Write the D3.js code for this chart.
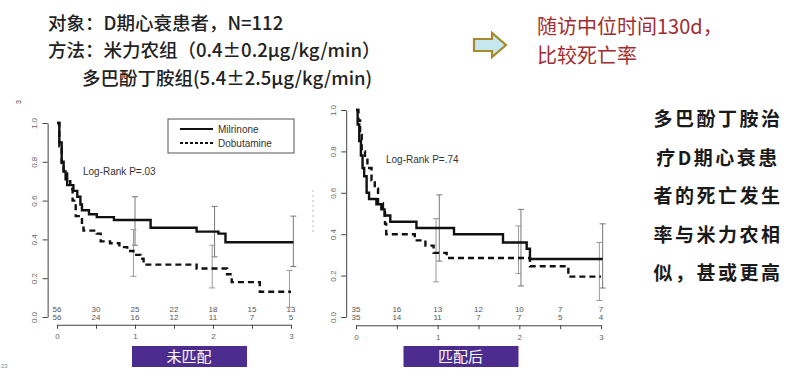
<html>
<head>
<meta charset="utf-8">
<script src="https://d3js.org/d3.v7.min.js"></script>
<style>
  body { margin: 0; background: #fff; }
  svg text { font-family: "Liberation Sans", "Noto Sans CJK SC", sans-serif; }
  svg text.cjk { font-family: "Noto Sans CJK SC", sans-serif; }
  .tick text { fill: #666; font-size: 8px; }
  .axis path, .axis line { stroke: #444; }
</style>
</head>
<body>
<svg id="chart" width="796" height="383"></svg>
<script>
// header text
const headLines = ['对象：D期心衰患者，N=112', '方法：米力农组（0.4±0.2μg/kg/min）', '多巴酚丁胺组(5.4±2.5μg/kg/min)'];
const noteLines = ['随访中位时间130d，', '比较死亡率'];
const sideLines = ['多巴酚丁胺治', '疗D期心衰患', '者的死亡发生', '率与米力农相', '似，甚或更高'];

// shared axis values
const xTicks = [0, 1, 2, 3];
const yTicks = [0, 0.2, 0.4, 0.6, 0.8, 1.0];
const riskTimes = [0, 0.5, 1, 1.5, 2, 2.5, 3];
const seriesNames = ['Milrinone', 'Dobutamine'];

// 未匹配 (unmatched)
const leftMil = [[0,1],[0.03,0.9],[0.06,0.8],[0.085,0.75],[0.11,0.71],[0.13,0.68],[0.21,0.65],[0.26,0.62],[0.3,0.58],[0.32,0.55],[0.41,0.53],[0.51,0.515],[0.73,0.5],[1.2,0.46],[1.79,0.44],[2.07,0.43],[2.16,0.385],[3.03,0.385]];
const leftDob = [[0,1],[0.03,0.88],[0.06,0.78],[0.085,0.74],[0.13,0.7],[0.17,0.66],[0.2,0.6],[0.24,0.52],[0.32,0.46],[0.34,0.445],[0.51,0.43],[0.56,0.39],[0.68,0.38],[0.8,0.36],[0.9,0.34],[0.98,0.32],[1.07,0.3],[1.11,0.27],[1.79,0.25],[2.18,0.22],[2.24,0.18],[2.6,0.13],[3.0,0.13]];
const leftMilErr = [[1.0,0.37,0.62],[2.02,0.31,0.57],[3.03,0.26,0.52]];
const leftDobErr = [[0.98,0.21,0.45],[1.99,0.15,0.37],[2.98,0.05,0.24]];
const leftRiskMil = [56, 30, 25, 22, 18, 15, 13];
const leftRiskDob = [56, 24, 16, 12, 11, 7, 5];

// 匹配后 (matched)
const rightMil = [[0,1],[0.02,0.93],[0.04,0.85],[0.06,0.78],[0.08,0.72],[0.1,0.68],[0.13,0.6],[0.16,0.57],[0.25,0.545],[0.31,0.52],[0.35,0.49],[0.42,0.46],[0.74,0.43],[1.2,0.4],[1.8,0.36],[2.09,0.33],[2.13,0.28],[3.02,0.28]];
const rightDob = [[0,1],[0.03,0.95],[0.05,0.88],[0.07,0.8],[0.11,0.76],[0.14,0.72],[0.19,0.66],[0.23,0.62],[0.27,0.55],[0.33,0.52],[0.355,0.45],[0.37,0.4],[0.72,0.37],[0.85,0.345],[0.95,0.31],[1.11,0.285],[2.13,0.245],[2.6,0.195],[3.0,0.195]];
const rightMilErr = [[1.02,0.27,0.59],[2.02,0.15,0.52],[3.02,0.14,0.45]];
const rightDobErr = [[0.98,0.17,0.475],[1.99,0.21,0.44],[2.98,0.08,0.36]];
const rightRiskMil = [35, 16, 13, 12, 10, 7, 7];
const rightRiskDob = [35, 14, 11, 7, 7, 5, 4];

const svg = d3.select('#chart');

// ---- header text
const head = svg.append('g').attr('fill', '#222');
[[48, 30], [48, 57], [82, 85]].forEach((p, i) => {
  head.append('text').attr('class', 'cjk').attr('x', p[0]).attr('y', p[1])
    .style('font-size', '18.5px').style('font-weight', 500).text(headLines[i]);
});

// arrow
svg.append('path')
  .attr('d', 'M474,39 L492,39 L492,33 L506,45 L492,57 L492,51 L474,51 Z')
  .attr('fill', '#c6e6f0').attr('stroke', '#a88a2e').attr('stroke-width', 2.2)
  .attr('stroke-linejoin', 'miter');

const note = svg.append('g').attr('fill', '#a02d30');
noteLines.forEach((t, i) => {
  note.append('text').attr('class', 'cjk').attr('x', 537).attr('y', 34 + i * 29)
    .style('font-size', '20px').text(t);
});

const side = svg.append('g').attr('fill', '#1a1a1a');
sideLines.forEach((t, i) => {
  side.append('text').attr('class', 'cjk').attr('x', 718).attr('y', 126 + i * 38.5)
    .attr('text-anchor', 'middle').style('font-size', '19px')
    .style('font-weight', 'bold').style('letter-spacing', '2.5px').text(t);
});

// ---- one KM panel
function drawPanel(cfg) {
  const x = d3.scaleLinear().domain([0, 3]).range(cfg.xr);
  const y = d3.scaleLinear().domain([0, 1]).range(cfg.yr);
  const padX = 0.12 * (cfg.xr[1] - cfg.xr[0]) / 3;
  const padY = 0.04 * (cfg.yr[0] - cfg.yr[1]);
  const g = svg.append('g');

  // y axis (R style: rotated labels)
  const ya = g.append('g').attr('class', 'axis')
    .attr('transform', `translate(${cfg.xr[0] - padX},0)`)
    .call(d3.axisLeft(y).tickValues(yTicks).tickFormat(d3.format('.1f')).tickSize(5).tickSizeOuter(0));
  ya.selectAll('.tick text')
    .attr('transform', 'rotate(-90)').attr('x', 0).attr('y', -13)
    .attr('dy', '0.3em').attr('text-anchor', 'middle');

  // x axis with half-year minor ticks
  g.append('g').attr('class', 'axis')
    .attr('transform', `translate(0,${cfg.yr[0] + padY})`)
    .call(d3.axisBottom(x).tickValues(riskTimes).tickSize(4).tickSizeOuter(0)
      .tickFormat(d => xTicks.includes(d) ? d : ''))
    .selectAll('.tick text').attr('y', 9);

  // number at risk
  const risk = g.append('g').style('font-size', '8px').attr('fill', '#555').attr('text-anchor', 'middle');
  riskTimes.forEach((t, i) => {
    risk.append('text').attr('x', x(t)).attr('y', y(0) - 5).text(cfg.riskMil[i]);
    risk.append('text').attr('x', x(t)).attr('y', y(0) + 3).text(cfg.riskDob[i]);
  });

  // error bars
  const err = (rows, col, w) => rows.forEach(r => {
    const bar = g.append('g').attr('stroke', col).attr('stroke-width', w);
    bar.append('line').attr('x1', x(r[0])).attr('x2', x(r[0])).attr('y1', y(r[1])).attr('y2', y(r[2]));
    [r[1], r[2]].forEach(v => bar.append('line')
      .attr('x1', x(r[0]) - 3).attr('x2', x(r[0]) + 3).attr('y1', y(v)).attr('y2', y(v)));
  });
  err(cfg.milErr, '#777', 1);
  err(cfg.dobErr, '#999', 1);

  // survival curves
  const line = d3.line().x(d => x(d[0])).y(d => y(d[1])).curve(d3.curveStepAfter);
  g.append('path').datum(cfg.mil).attr('d', line)
    .attr('fill', 'none').attr('stroke', '#111').attr('stroke-width', 2.4);
  g.append('path').datum(cfg.dob).attr('d', line)
    .attr('fill', 'none').attr('stroke', '#111').attr('stroke-width', 2.4)
    .attr('stroke-dasharray', '6,4');

  g.append('text').attr('x', cfg.pLabel[0]).attr('y', cfg.pLabel[1])
    .style('font-size', '10px').attr('fill', '#333').text(cfg.pText);

  // group label box
  const bx = d3.mean(cfg.xr) + cfg.boxShift;
  g.append('rect').attr('x', bx - 57).attr('y', 346).attr('width', 115).attr('height', 21)
    .attr('fill', '#4c2c8e');
  g.append('text').attr('class', 'cjk').attr('x', bx).attr('y', 362)
    .attr('text-anchor', 'middle').attr('fill', '#fff').style('font-size', '15px')
    .text(cfg.box);
  return { x, y, g };
}

drawPanel({
  xr: [57, 291], yr: [317, 123], mil: leftMil, dob: leftDob,
  milErr: leftMilErr, dobErr: leftDobErr, riskMil: leftRiskMil, riskDob: leftRiskDob,
  pText: 'Log-Rank P=.03', pLabel: [83, 175], box: '未匹配', boxShift: 15
});
drawPanel({
  xr: [356, 601], yr: [317, 110], mil: rightMil, dob: rightDob,
  milErr: rightMilErr, dobErr: rightDobErr, riskMil: rightRiskMil, riskDob: rightRiskDob,
  pText: 'Log-Rank P=.74', pLabel: [386, 163], box: '匹配后', boxShift: -18
});

// legend in the left panel
const lg = svg.append('g');
lg.append('rect').attr('x', 168).attr('y', 119).attr('width', 126).attr('height', 34)
  .attr('fill', '#fff').attr('stroke', '#555').attr('stroke-width', 1);
seriesNames.forEach((n, i) => {
  lg.append('line').attr('x1', 180).attr('x2', 213).attr('y1', 129 + i * 14).attr('y2', 129 + i * 14)
    .attr('stroke', '#111').attr('stroke-width', 2.2)
    .attr('stroke-dasharray', i ? '3,2' : null);
  lg.append('text').attr('x', 218).attr('y', 133 + i * 14).style('font-size', '10px')
    .attr('fill', '#333').text(n);
});

// faint leftovers from the slide
svg.append('line').attr('x1', 313).attr('x2', 313).attr('y1', 190).attr('y2', 232)
  .attr('stroke', '#bbb').attr('stroke-dasharray', '2,3');
svg.append('text').attr('x', 21).attr('y', 104).style('font-size', '7px').attr('fill', '#444')
  .attr('transform', 'rotate(-90,21,104)').text('3');
svg.append('text').attr('x', 1).attr('y', 368).style('font-size', '6px').attr('fill', '#7a8a9a').text('23');
</script>
</body>
</html>
